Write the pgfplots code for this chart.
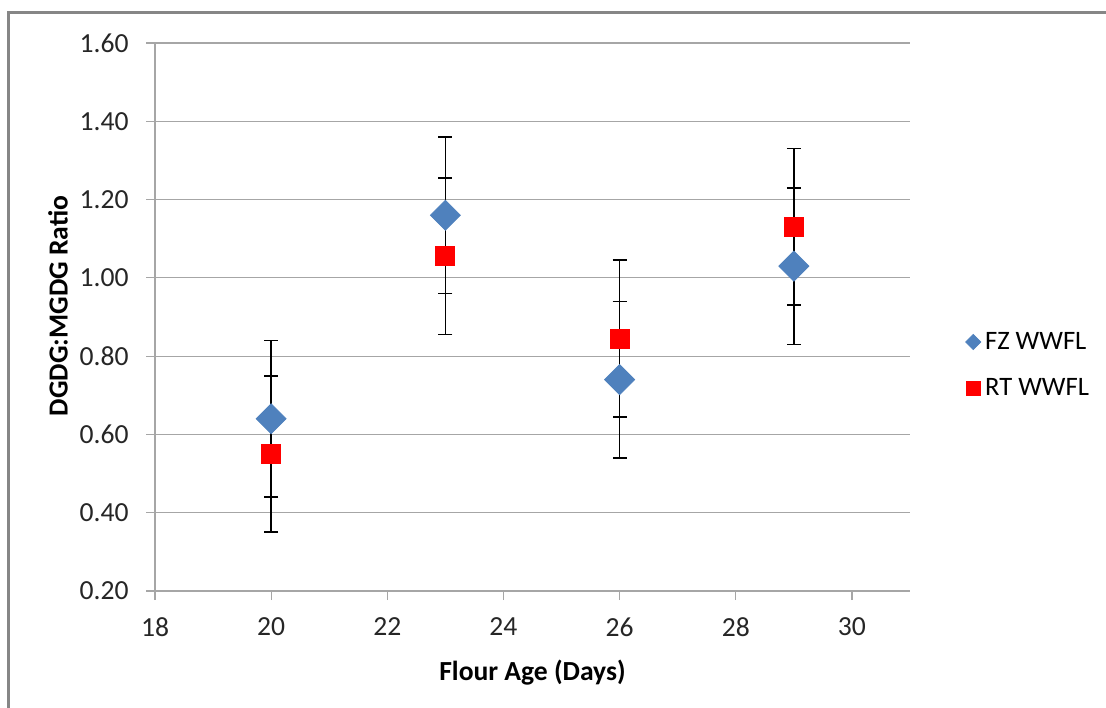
\documentclass[border=0pt]{standalone}
\usepackage{pgfplots}
\pgfplotsset{compat=1.18}
\usepackage{fontspec}
\setmainfont{Carlito}
\definecolor{fzblue}{HTML}{4F81BD}
\definecolor{rtred}{HTML}{FF0000}
\definecolor{gridgray}{HTML}{A6A6A6}
\definecolor{framegray}{HTML}{868686}

% 1 px of the reference = 0.5pt
\begin{document}
\begin{tikzpicture}
\path[use as bounding box] (-77.5pt,-58pt) rectangle (475.5pt,295.5pt);
\begin{axis}[
  scale only axis,
  width=377.5pt, height=274pt,
  xmin=18, xmax=31, ymin=0.2, ymax=1.6,
  xtick={18,20,...,30},
  ytick={0.2,0.4,...,1.6},
  axis lines=left,
  axis line style={-, gridgray, line width=0.6pt},
  tick style={gridgray, line width=0.6pt},
  tick align=outside,
  major tick length=4.5pt,
  ymajorgrids,
  grid style={gridgray, line width=0.6pt},
  font=\fontsize{13.8pt}{16pt}\selectfont,
  /pgf/number format/assume math mode=true,
  yticklabel style={/pgf/number format/fixed, /pgf/number format/fixed zerofill,
    /pgf/number format/precision=2, inner sep=0pt, xshift=-8.5pt, text=black!85},
  xticklabel style={inner sep=0pt, yshift=-8.5pt, text=black!85},
  xlabel={\bfseries Flour Age (Days)},
  ylabel={\bfseries DGDG:MGDG Ratio},
  xlabel style={at={(axis description cs:0.5,-0.148)}, anchor=center},
  ylabel style={at={(axis description cs:-0.1285,0.52)}, anchor=center},
  legend style={draw=none, fill=none, at={(axis description cs:1.0728,0.4124)},
    anchor=west, row sep=9pt, inner sep=0pt, legend cell align=left,
    font=\fontsize{13.3pt}{15pt}\selectfont},
  clip=false,
]
% error bars first, markers on top
\addplot[only marks, mark=none, forget plot,
  error bars/.cd, y dir=both, y explicit,
  error bar style={black, line width=0.8pt},
  error mark options={rotate=90, mark size=3.5pt, black, line width=0.8pt}]
  coordinates {(20,0.64) +- (0,0.2) (23,1.16) +- (0,0.2) (26,0.74) +- (0,0.2) (29,1.03) +- (0,0.2)};
\addplot[only marks, mark=none, forget plot,
  error bars/.cd, y dir=both, y explicit,
  error bar style={black, line width=0.8pt},
  error mark options={rotate=90, mark size=3.5pt, black, line width=0.8pt}]
  coordinates {(20,0.55) +- (0,0.2) (23,1.055) +- (0,0.2) (26,0.845) +- (0,0.2) (29,1.13) +- (0,0.2)};
\addplot[only marks, mark=square*, mark size=5.3pt,
  mark options={fill=fzblue, draw=fzblue, rotate=45},
  legend image code/.code={\fill[fzblue] (3.75pt,3.75pt) -- (7.5pt,0pt) -- (3.75pt,-3.75pt) -- (0pt,0pt) -- cycle;}]
  coordinates {(20,0.64) (23,1.16) (26,0.74) (29,1.03)};
\addplot[only marks, mark=square*, mark size=4.75pt,
  mark options={fill=rtred, draw=rtred},
  legend image code/.code={\fill[rtred] (0.25pt,-3.5pt) rectangle (7.25pt,3.5pt);}]
  coordinates {(20,0.55) (23,1.055) (26,0.845) (29,1.13)};
\legend{FZ WWFL, RT WWFL}
\end{axis}
\draw[framegray, line width=1.5pt] (-73pt,-60pt) -- (-73pt,289pt) -- (480pt,289pt);
\end{tikzpicture}
\end{document}
